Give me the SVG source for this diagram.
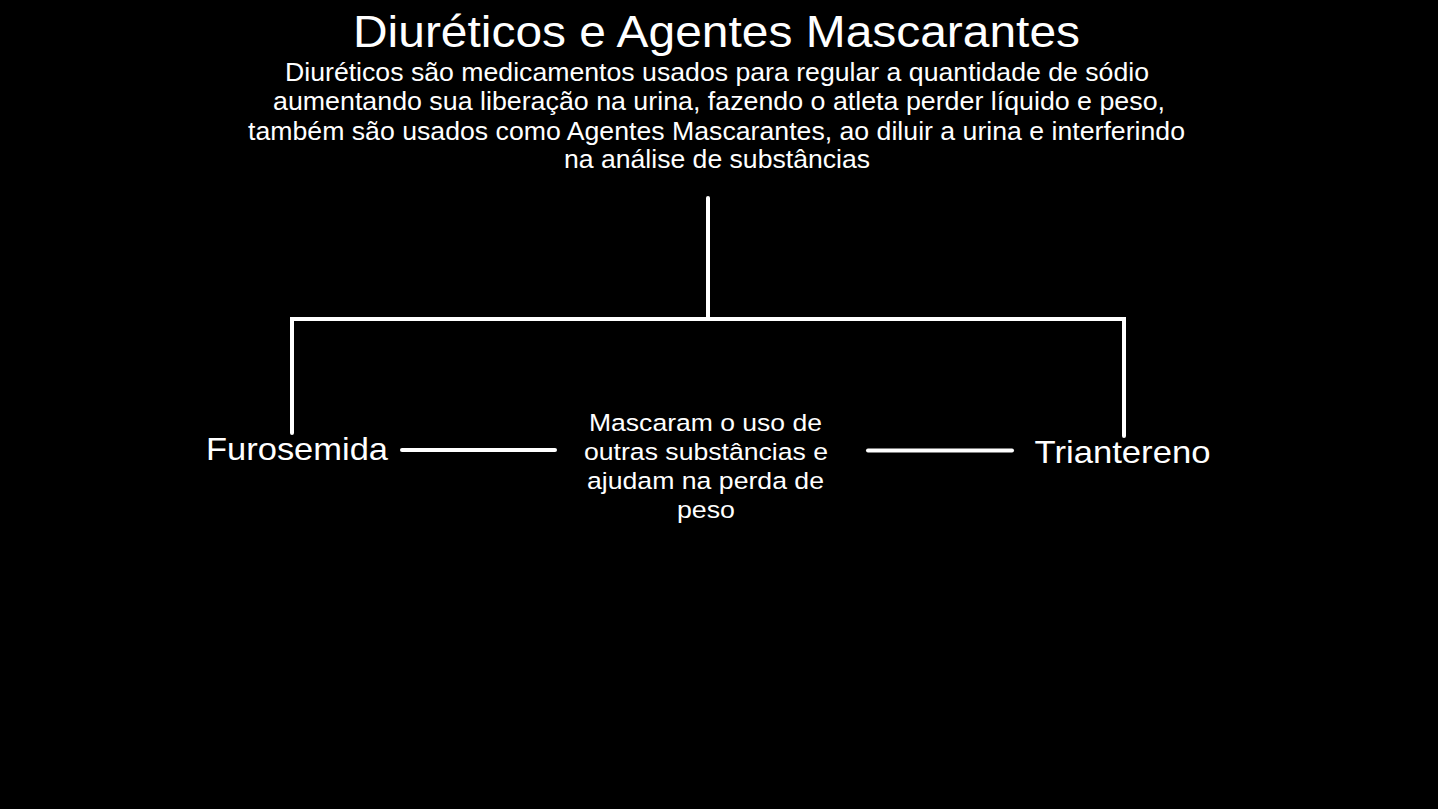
<svg xmlns="http://www.w3.org/2000/svg" width="1438" height="809" viewBox="0 0 1438 809">
<style>
text{fill:#fff;font-family:"Liberation Sans",Arial,sans-serif;text-anchor:middle}
.title{font-size:45px}
.desc{font-size:25px}
.node{font-size:32px}
.mid{font-size:24.5px}
.conn{stroke:#fff;stroke-width:4;fill:none;stroke-linecap:round;stroke-linejoin:miter}
</style>
<rect x="0" y="0" width="1438" height="809" fill="#000"/>
<g id="title">
<text class="title" x="716.5" y="47" textLength="727" lengthAdjust="spacingAndGlyphs">Diuréticos e Agentes Mascarantes</text>
<text class="desc" x="717" y="81" textLength="864" lengthAdjust="spacingAndGlyphs">Diuréticos são medicamentos usados para regular a quantidade de sódio</text>
<text class="desc" x="719" y="110" textLength="892" lengthAdjust="spacingAndGlyphs">aumentando sua liberação na urina, fazendo o atleta perder líquido e peso,</text>
<text class="desc" x="716.5" y="139.5" textLength="937" lengthAdjust="spacingAndGlyphs">também são usados como Agentes Mascarantes, ao diluir a urina e interferindo</text>
<text class="desc" x="717" y="168" textLength="306" lengthAdjust="spacingAndGlyphs">na análise de substâncias</text>
</g>
<g id="connectors">
<path class="conn" d="M708 198 V319"/>
<path class="conn" d="M292 433 V319 H1124 V436"/>
<path class="conn" d="M402 450 H555"/>
<path class="conn" d="M868 450.5 H1012"/>
</g>
<g id="furosemida">
<text class="node" x="297" y="460" textLength="182" lengthAdjust="spacingAndGlyphs">Furosemida</text>
</g>
<g id="triantereno">
<text class="node" x="1122.5" y="463" textLength="176" lengthAdjust="spacingAndGlyphs">Triantereno</text>
</g>
<g id="mascaram">
<text class="mid" x="705.5" y="430.5" textLength="233" lengthAdjust="spacingAndGlyphs">Mascaram o uso de</text>
<text class="mid" x="706" y="460" textLength="244" lengthAdjust="spacingAndGlyphs">outras substâncias e</text>
<text class="mid" x="705.5" y="489" textLength="237" lengthAdjust="spacingAndGlyphs">ajudam na perda de</text>
<text class="mid" x="706" y="518" textLength="58" lengthAdjust="spacingAndGlyphs">peso</text>
</g>
</svg>
